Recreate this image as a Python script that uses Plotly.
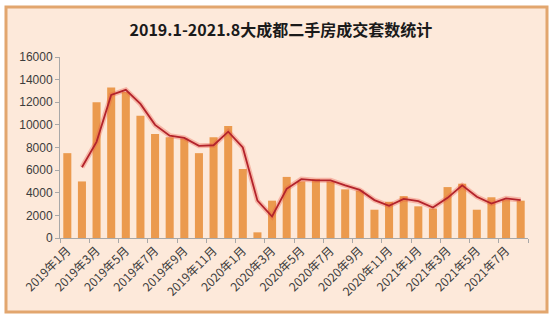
import pandas as pd
import plotly.graph_objects as go

# Monthly second-hand housing transactions, Greater Chengdu, 2019.1 - 2021.8
months = [f"{y}年{m}月" for y, m in
          [(2019, i) for i in range(1, 13)] +
          [(2020, i) for i in range(1, 13)] +
          [(2021, i) for i in range(1, 9)]]
deals = [7500, 5000, 12000, 13300, 12900, 10800, 9200, 8900, 8800, 7500, 8900, 9900,
         6100, 500, 3300, 5400, 5000, 5200, 5000, 4300, 4200, 2500, 3200, 3700,
         2800, 2600, 4500, 4800, 2500, 3600, 3400, 3300]
y_ticks = [0, 2000, 4000, 6000, 8000, 10000, 12000, 14000, 16000]

# 2-period moving-average trendline of the bars
trend = pd.Series(deals).rolling(2).mean().tolist()

xs = list(range(len(months)))
label_idx = xs[::2]

BAR = "#EB9A4E"
PEACH = "#FDE9DA"
FRAME = "#E2A66E"
TXT = "#3c3c3c"
AXIS = "#A8A8A8"

fig = go.Figure()
fig.add_trace(go.Bar(x=xs, y=deals, marker=dict(color=BAR, line=dict(width=0)),
                     width=0.55, hoverinfo="skip"))
# soft glow under the trendline
fig.add_trace(go.Scatter(x=xs, y=trend, mode="lines",
                         line=dict(color="rgba(235,90,70,0.35)", width=5),
                         hoverinfo="skip"))
fig.add_trace(go.Scatter(x=xs, y=trend, mode="lines",
                         line=dict(color="#B3232B", width=1.8),
                         hoverinfo="skip"))
# invisible trace carrying the boundary tick marks
fig.add_trace(go.Scatter(x=[-0.5, 31.5], y=[0, 0], xaxis="x2", mode="lines",
                         line=dict(width=0), hoverinfo="skip"))

fig.update_layout(
    width=554, height=322,
    margin=dict(l=60, r=26, t=57, b=84),
    paper_bgcolor="white",
    plot_bgcolor="rgba(0,0,0,0)",
    showlegend=False,
    bargap=0.45,
    title=dict(text="<b>2019.1-2021.8大成都二手房成交套数统计</b>",
               x=0.507, xanchor="center", y=0.905, yanchor="middle",
               font=dict(family="Noto Sans CJK SC", size=16, color="#1a1a1a")),
    font=dict(family="Noto Sans CJK SC", color=TXT),
    xaxis=dict(range=[-0.5, 31.5], tickmode="array", tickvals=label_idx,
               ticktext=[months[i] for i in label_idx], tickangle=-45,
               ticks="", showline=True, linecolor=AXIS, linewidth=1,
               showgrid=False, zeroline=False,
               tickfont=dict(family="Noto Sans CJK SC", size=12, color=TXT)),
    xaxis2=dict(range=[-0.5, 31.5], overlaying="x", matches=None,
                tickmode="array", tickvals=[i - 0.5 for i in range(0, 33, 2)],
                showticklabels=False, ticks="outside", ticklen=4,
                tickcolor=AXIS, showgrid=False, zeroline=False, showline=False),
    yaxis=dict(range=[0, 16000], tickmode="array", tickvals=y_ticks,
               ticktext=[str(v) for v in y_ticks],
               ticks="outside", ticklen=4, tickcolor=AXIS,
               showline=True, linecolor=AXIS, linewidth=1,
               showgrid=False, zeroline=False,
               tickfont=dict(family="Liberation Sans", size=12, color=TXT)),
    shapes=[dict(type="rect", xref="paper", yref="paper",
                 x0=-0.1154, x1=1.0406, y0=-0.409, y1=1.276,
                 line=dict(color=FRAME, width=3), fillcolor=PEACH,
                 layer="below")],
)

fig.write_html("out.html")
